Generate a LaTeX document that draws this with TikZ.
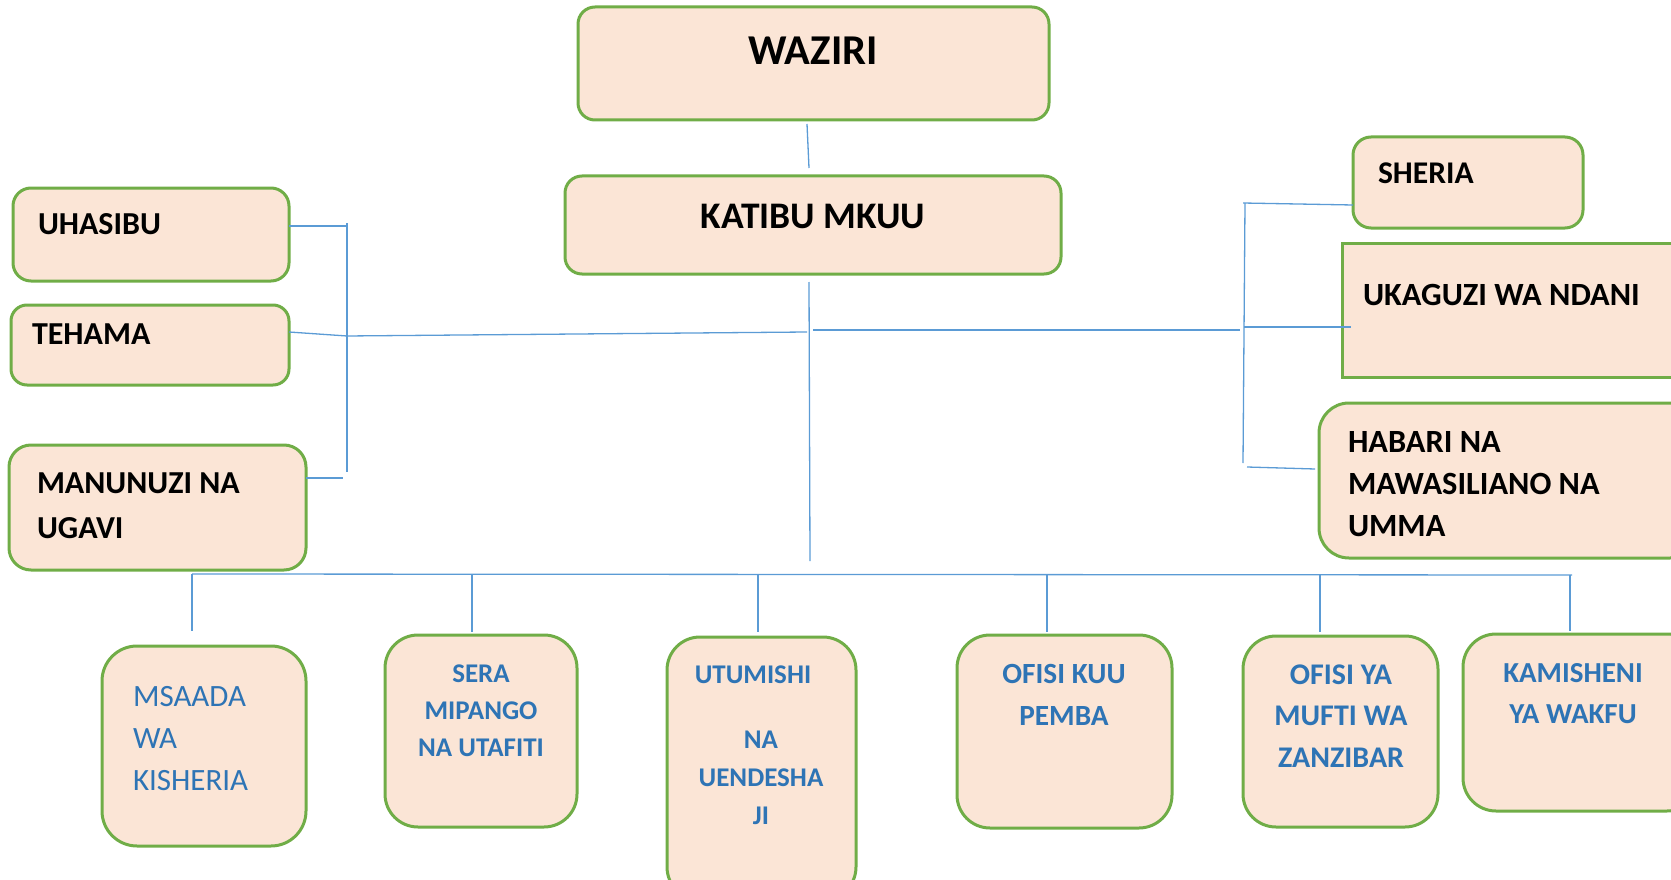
\documentclass[tikz,border=0pt]{standalone}
\usepackage{fontspec}
\setmainfont{Carlito}
\definecolor{boxgreen}{HTML}{70AD47}
\definecolor{boxfill}{HTML}{FBE5D6}
\definecolor{linkblue}{HTML}{5B9BD5}
\definecolor{txtblue}{HTML}{2E74B5}
\begin{document}
\begin{tikzpicture}[x=1pt,y=-1pt,
  orgbox/.style={draw=boxgreen, fill=boxfill, line width=3pt, rounded corners=#1, inner sep=0pt, outer sep=0pt},
  sqbox/.style={draw=boxgreen, fill=boxfill, line width=3pt, inner sep=0pt, outer sep=0pt},
  conn/.style={draw=linkblue, line width=1.3pt},
  blk/.style={inner sep=0pt, outer sep=0pt, text=black, font=\bfseries\fontsize{#1}{#1}\selectfont},
  blkml/.style={inner sep=0pt, outer sep=0pt, text=black, align=left},
  blu/.style={inner sep=0pt, outer sep=0pt, text=txtblue, align=center}]
\useasboundingbox (0,0) rectangle (1671,880);
\clip (0,0) rectangle (1671,880);
% ---------- boxes ----------
\node[orgbox=17pt, minimum width=471pt, minimum height=113pt] (waziri) at (813.5,63.5) {};
\node[orgbox=17pt, minimum width=496pt, minimum height=98pt] (katibu) at (813,225) {};
\node[orgbox=18pt, minimum width=276pt, minimum height=93pt] (uhasibu) at (151,234.5) {};
\node[orgbox=16pt, minimum width=278pt, minimum height=80pt] (tehama) at (150,345) {};
\node[orgbox=22pt, minimum width=297pt, minimum height=125pt] (manunuzi) at (157.5,507.5) {};
\node[orgbox=18pt, minimum width=230pt, minimum height=91pt] (sheria) at (1468,182.5) {};
\node[sqbox, minimum width=358pt, minimum height=134pt] (ukaguzi) at (1521,310) {};
\node[orgbox=30pt, minimum width=381pt, minimum height=155pt] (habari) at (1509.5,480.5) {};
\node[orgbox=35pt, minimum width=204pt, minimum height=200pt] (msaada) at (204,746) {};
\node[orgbox=33pt, minimum width=192pt, minimum height=192pt] (sera) at (481,731) {};
\node[orgbox=33pt, minimum width=189pt, minimum height=263pt] (utumishi) at (761.5,768.5) {};
\node[orgbox=33pt, minimum width=215pt, minimum height=193pt] (pemba) at (1064.5,731.5) {};
\node[orgbox=33pt, minimum width=195pt, minimum height=191pt] (mufti) at (1340.5,731.5) {};
\node[orgbox=33pt, minimum width=237pt, minimum height=177pt] (wakfu) at (1581.5,722.5) {};
% ---------- texts (multi-line anchors at last baseline) ----------
\node[blk=42.5, anchor=base] (t-waziri) at (813,65) {WAZIRI};
\node[blk=37.5, anchor=base] (t-katibu) at (813,228) {KATIBU MKUU};
\node[blk=32, anchor=base west] (t-uhasibu) at (38,234) {UHASIBU};
\node[blk=32, anchor=base west] (t-tehama) at (32,344) {TEHAMA};
\node[blkml, font=\bfseries\fontsize{32}{45}\selectfont, anchor=base west] (t-manunuzi) at (37,538) {MANUNUZI NA\\UGAVI};
\node[blk=31.6, anchor=base west] (t-sheria) at (1378,183) {SHERIA};
\node[blk=32.4, anchor=base west] (t-ukaguzi) at (1363,305) {UKAGUZI WA NDANI};
\node[blkml, font=\bfseries\fontsize{32.4}{42}\selectfont, anchor=base west] (t-habari) at (1348,536) {HABARI NA\\MAWASILIANO NA\\UMMA};
\node[blu, align=left, font=\fontsize{31}{42}\selectfont, anchor=base west] (t-msaada) at (133,790) {MSAADA\\WA\\KISHERIA};
\node[blu, font=\bfseries\fontsize{27}{37}\selectfont, anchor=base] (t-sera) at (481,756) {SERA\\MIPANGO\\NA UTAFITI};
\node[blu, font=\bfseries\fontsize{27}{38}\selectfont, anchor=base] (t-utumishi) at (761,824) {UTUMISHI\hspace*{16pt}\\[27pt]NA\\UENDESHA\\JI};
\node[blu, font=\bfseries\fontsize{29.3}{42}\selectfont, anchor=base] (t-pemba) at (1064,725) {OFISI KUU\\PEMBA};
\node[blu, font=\bfseries\fontsize{30}{41.5}\selectfont, anchor=base] (t-mufti) at (1341,767) {OFISI YA\\MUFTI WA\\ZANZIBAR};
\node[blu, font=\bfseries\fontsize{29}{41}\selectfont, anchor=base] (t-wakfu) at (1573,723) {KAMISHENI\\YA WAKFU};
% ---------- junction coordinates ----------
\coordinate (wk1) at (807,124);
\coordinate (wk2) at (809,168);
\coordinate (tr1) at (809,282);
\coordinate (tr2) at (810,561);
\coordinate (lm1) at (346,336);
\coordinate (lm2) at (807,332);
\coordinate (rm1) at (813,330);
\coordinate (rm2) at (1240,330);
\coordinate (lb1) at (347,223);
\coordinate (lb2) at (347,472);
\coordinate (lu) at (348,226);
\coordinate (lt) at (347,336);
\coordinate (lmn) at (343,478);
\coordinate (rb1) at (1245,203);
\coordinate (rb2) at (1243,463);
\coordinate (rs) at (1243,203);
\coordinate (ru) at (1244,327);
\coordinate (ruk) at (1351,327);
\coordinate (rh) at (1247,467);
\coordinate (bus1) at (192,574);
\coordinate (bus2) at (1572,575);
\coordinate (d1) at (192,574);
\coordinate (d2) at (472,574);
\coordinate (d3) at (758,574.5);
\coordinate (d4) at (1047,574.5);
\coordinate (d5) at (1320,575);
\coordinate (d6) at (1570,575);
% ---------- connectors ----------
\draw[conn] (wk1) -- (wk2);
\draw[conn] (tr1) -- (tr2);
\draw[conn] (lm1) -- (lm2);
\draw[conn] (rm1) -- (rm2);
\draw[conn] (lb1) -- (lb2);
\draw[conn] (uhasibu.east |- lu) -- (lu);
\draw[conn] (tehama.east |- 0,332) -- (lt);
\draw[conn] (manunuzi.east |- lmn) -- (lmn);
\draw[conn] (rb1) -- (rb2);
\draw[conn] (rs) -- (sheria.west |- 0,205);
\draw[conn] (ru) -- (ruk);
\draw[conn] (rh) -- (1315,469);
\draw[conn] (bus1) -- (bus2);
\draw[conn] (d1) -- (d1 |- 0,631);
\draw[conn] (d2) -- (d2 |- 0,632);
\draw[conn] (d3) -- (d3 |- 0,632);
\draw[conn] (d4) -- (d4 |- 0,632);
\draw[conn] (d5) -- (d5 |- 0,632);
\draw[conn] (d6) -- (d6 |- 0,631);
\end{tikzpicture}
\end{document}
